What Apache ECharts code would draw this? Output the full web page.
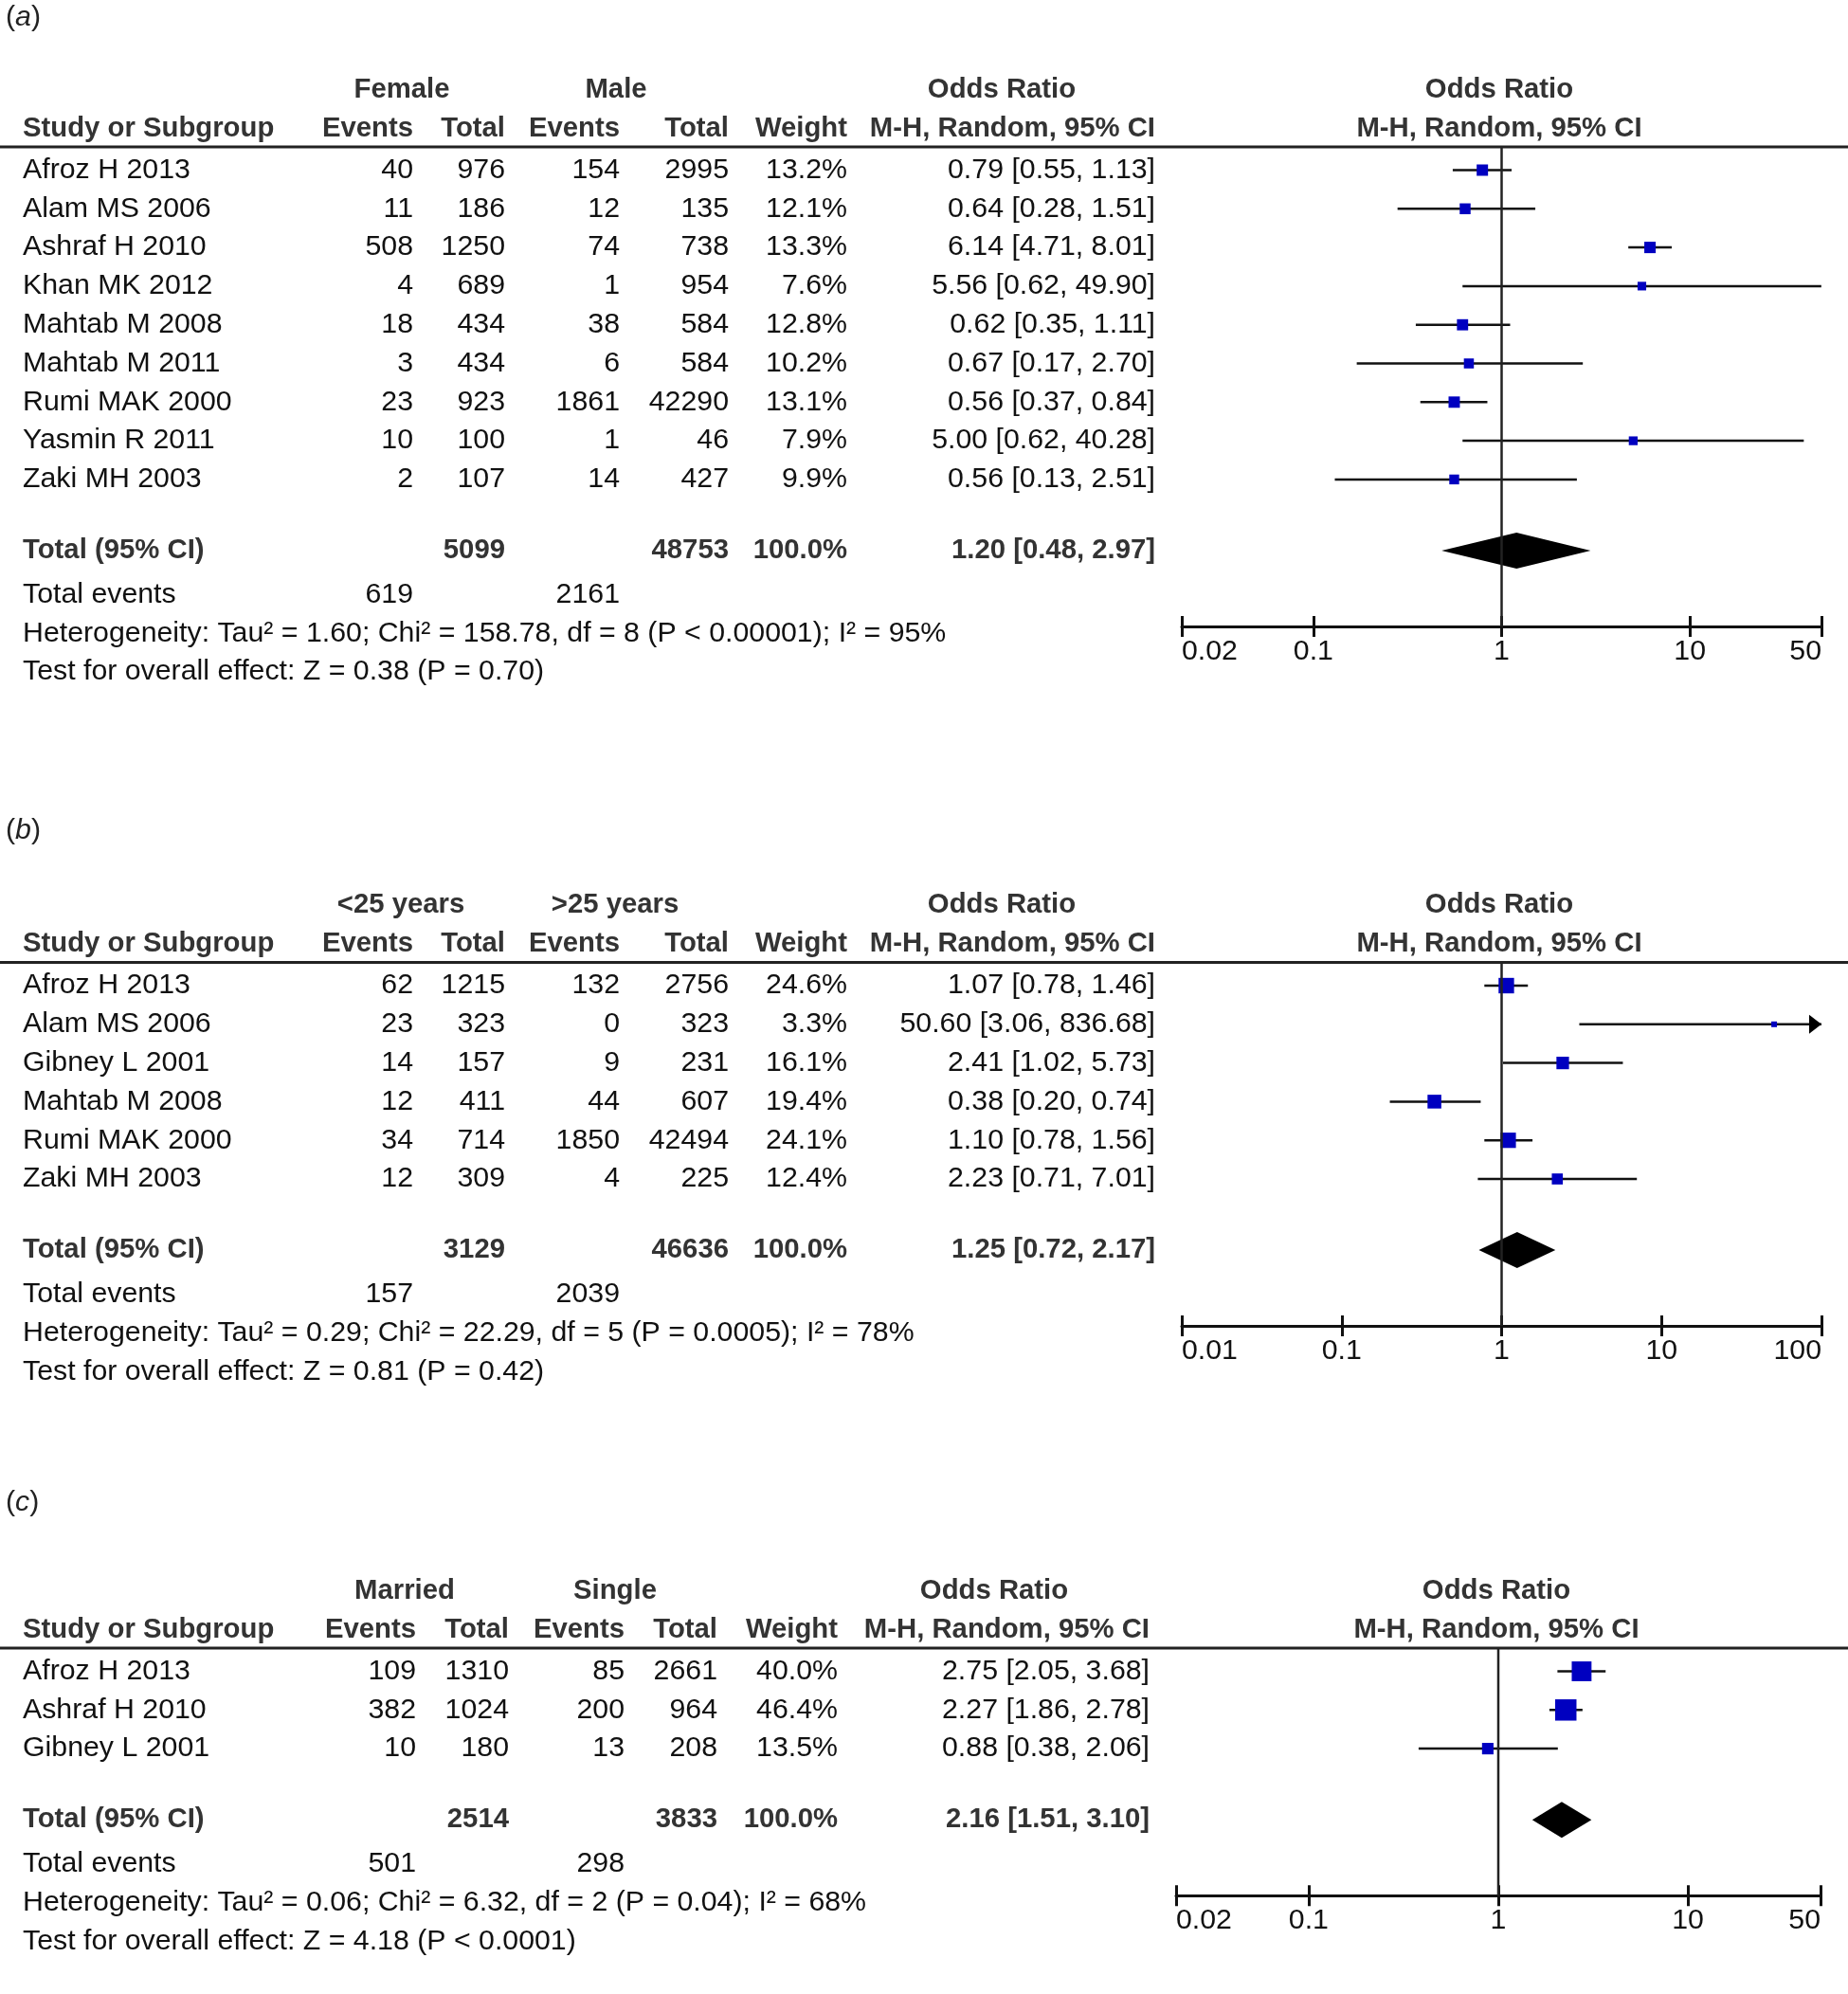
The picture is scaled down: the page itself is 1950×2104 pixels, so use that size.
<!DOCTYPE html>
<html>
<head>
    <meta charset="utf-8">
</head>
<body style="margin: 0; background: #fff">
    <div id="container" style="width: 1950px; height: 2104px"></div>
    <script type="text/javascript" src="https://cdn.jsdelivr.net/npm/echarts@6/dist/echarts.min.js"></script>
    <script type="text/javascript">
// ---------- (a) female vs male ----------
var groupsA = ['Female', 'Male'];
var studiesA = ['Afroz H 2013', 'Alam MS 2006', 'Ashraf H 2010', 'Khan MK 2012', 'Mahtab M 2008',
    'Mahtab M 2011', 'Rumi MAK 2000', 'Yasmin R 2011', 'Zaki MH 2003'];
var events1A = [40, 11, 508, 4, 18, 3, 23, 10, 2];
var total1A = [976, 186, 1250, 689, 434, 434, 923, 100, 107];
var events2A = [154, 12, 74, 1, 38, 6, 1861, 1, 14];
var total2A = [2995, 135, 738, 954, 584, 584, 42290, 46, 427];
var weightA = [13.2, 12.1, 13.3, 7.6, 12.8, 10.2, 13.1, 7.9, 9.9];
var orA = [0.79, 0.64, 6.14, 5.56, 0.62, 0.67, 0.56, 5.00, 0.56];
var loA = [0.55, 0.28, 4.71, 0.62, 0.35, 0.17, 0.37, 0.62, 0.13];
var hiA = [1.13, 1.51, 8.01, 49.90, 1.11, 2.70, 0.84, 40.28, 2.51];
var sumTotalsA = [5099, 48753];
var sumOrA = [1.20, 0.48, 2.97];
var sumEventsA = [619, 2161];
var hetA = 'Heterogeneity: Tau\u00b2 = 1.60; Chi\u00b2 = 158.78, df = 8 (P < 0.00001); I\u00b2 = 95%';
var testA = 'Test for overall effect: Z = 0.38 (P = 0.70)';
var ticksA = [0.02, 50];

// ---------- (b) <25 vs >25 years ----------
var groupsB = ['<25 years', '>25 years'];
var studiesB = ['Afroz H 2013', 'Alam MS 2006', 'Gibney L 2001', 'Mahtab M 2008', 'Rumi MAK 2000', 'Zaki MH 2003'];
var events1B = [62, 23, 14, 12, 34, 12];
var total1B = [1215, 323, 157, 411, 714, 309];
var events2B = [132, 0, 9, 44, 1850, 4];
var total2B = [2756, 323, 231, 607, 42494, 225];
var weightB = [24.6, 3.3, 16.1, 19.4, 24.1, 12.4];
var orB = [1.07, 50.60, 2.41, 0.38, 1.10, 2.23];
var loB = [0.78, 3.06, 1.02, 0.20, 0.78, 0.71];
var hiB = [1.46, 836.68, 5.73, 0.74, 1.56, 7.01];
var sumTotalsB = [3129, 46636];
var sumOrB = [1.25, 0.72, 2.17];
var sumEventsB = [157, 2039];
var hetB = 'Heterogeneity: Tau\u00b2 = 0.29; Chi\u00b2 = 22.29, df = 5 (P = 0.0005); I\u00b2 = 78%';
var testB = 'Test for overall effect: Z = 0.81 (P = 0.42)';
var ticksB = [0.01, 100];

// ---------- (c) married vs single ----------
var groupsC = ['Married', 'Single'];
var studiesC = ['Afroz H 2013', 'Ashraf H 2010', 'Gibney L 2001'];
var events1C = [109, 382, 10];
var total1C = [1310, 1024, 180];
var events2C = [85, 200, 13];
var total2C = [2661, 964, 208];
var weightC = [40.0, 46.4, 13.5];
var orC = [2.75, 2.27, 0.88];
var loC = [2.05, 1.86, 0.38];
var hiC = [3.68, 2.78, 2.06];
var sumTotalsC = [2514, 3833];
var sumOrC = [2.16, 1.51, 3.10];
var sumEventsC = [501, 298];
var hetC = 'Heterogeneity: Tau\u00b2 = 0.06; Chi\u00b2 = 6.32, df = 2 (P = 0.04); I\u00b2 = 68%';
var testC = 'Test for overall effect: Z = 4.18 (P < 0.0001)';
var ticksC = [0.02, 50];

var FONT = '"Liberation Sans", Arial, sans-serif';
var FS = 30.3;      // regular text
var FSB = 29.3;     // bold text
var ROW = 40.8;
var TEXT = '#111';
var HEAD = '#333';
var BOX = '#0000c0';

// layout of each panel (pixels)
var layouts = [
    {label: 'a', labelRow: -3.95, row0: 179.5, axisL: 1247, axisR: 1922,
        cols: {name: 24, e1: 436, t1: 533, e2: 654, t2: 769, w: 894, or: 1219, g1: 424, g2: 650, orHead: 1057, plotHead: 1582}},
    {label: 'b', labelRow: -4.0, row0: 1040, axisL: 1247, axisR: 1922,
        cols: {name: 24, e1: 436, t1: 533, e2: 654, t2: 769, w: 894, or: 1219, g1: 423, g2: 649, orHead: 1057, plotHead: 1582}},
    {label: 'c', labelRow: -4.36, row0: 1763.5, axisL: 1241, axisR: 1921,
        cols: {name: 24, e1: 439, t1: 537, e2: 659, t2: 757, w: 884, or: 1213, g1: 427, g2: 649, orHead: 1049, plotHead: 1579}}
];
var panelData = [
    {groups: groupsA, studies: studiesA, e1: events1A, t1: total1A, e2: events2A, t2: total2A, w: weightA,
        or: orA, lo: loA, hi: hiA, sumT: sumTotalsA, sumOr: sumOrA, sumE: sumEventsA, het: hetA, test: testA, ticks: ticksA},
    {groups: groupsB, studies: studiesB, e1: events1B, t1: total1B, e2: events2B, t2: total2B, w: weightB,
        or: orB, lo: loB, hi: hiB, sumT: sumTotalsB, sumOr: sumOrB, sumE: sumEventsB, het: hetB, test: testB, ticks: ticksB},
    {groups: groupsC, studies: studiesC, e1: events1C, t1: total1C, e2: events2C, t2: total2C, w: weightC,
        or: orC, lo: loC, hi: hiC, sumT: sumTotalsC, sumOr: sumOrC, sumE: sumEventsC, het: hetC, test: testC, ticks: ticksC}
];

function orText(o, l, h) {
    return o.toFixed(2) + ' [' + l.toFixed(2) + ', ' + h.toFixed(2) + ']';
}

var option = {
    animation: false,
    backgroundColor: '#fff',
    grid: [], xAxis: [], yAxis: [], series: []
};

function addPanel(L, D) {
    var n = D.studies.length;
    var C = L.cols;
    var yMin = -4.4, yMax = n + 4.6;
    var fTop = -0.6, fBot = n + 2.8;

    // ----- table grid (text + header rule) -----
    var gi = option.grid.length;
    option.grid.push({left: 0, width: 1950, top: L.row0 + yMin * ROW, height: (yMax - yMin) * ROW});
    option.xAxis.push({gridIndex: gi, type: 'value', min: 0, max: 1950, show: false});
    option.yAxis.push({gridIndex: gi, type: 'value', min: yMin, max: yMax, inverse: true, show: false});

    var cells = [];
    function cell(x, row, text, align, bold) {
        cells.push({x: x, row: row, text: String(text), align: align, bold: !!bold});
    }
    cells.push({x: 6, row: L.labelRow, text: '({i|' + L.label + '})', align: 'left', rich: true});
    cell(C.g1, -2.08, D.groups[0], 'center', true);
    cell(C.g2, -2.08, D.groups[1], 'center', true);
    cell(C.orHead, -2.08, 'Odds Ratio', 'center', true);
    cell(C.plotHead, -2.08, 'Odds Ratio', 'center', true);
    cell(C.name, -1.08, 'Study or Subgroup', 'left', true);
    cell(C.e1, -1.08, 'Events', 'right', true);
    cell(C.t1, -1.08, 'Total', 'right', true);
    cell(C.e2, -1.08, 'Events', 'right', true);
    cell(C.t2, -1.08, 'Total', 'right', true);
    cell(C.w, -1.08, 'Weight', 'right', true);
    cell(C.or, -1.08, 'M-H, Random, 95% CI', 'right', true);
    cell(C.plotHead, -1.08, 'M-H, Random, 95% CI', 'center', true);
    for (var i = 0; i < n; i++) {
        cell(C.name, i, D.studies[i], 'left');
        cell(C.e1, i, D.e1[i], 'right');
        cell(C.t1, i, D.t1[i], 'right');
        cell(C.e2, i, D.e2[i], 'right');
        cell(C.t2, i, D.t2[i], 'right');
        cell(C.w, i, D.w[i].toFixed(1) + '%', 'right');
        cell(C.or, i, orText(D.or[i], D.lo[i], D.hi[i]), 'right');
    }
    var rt = n + 0.84;
    cell(C.name, rt, 'Total (95% CI)', 'left', true);
    cell(C.t1, rt, D.sumT[0], 'right', true);
    cell(C.t2, rt, D.sumT[1], 'right', true);
    cell(C.w, rt, '100.0%', 'right', true);
    cell(C.or, rt, orText(D.sumOr[0], D.sumOr[1], D.sumOr[2]), 'right', true);
    cell(C.name, n + 1.98, 'Total events', 'left');
    cell(C.e1, n + 1.98, D.sumE[0], 'right');
    cell(C.e2, n + 1.98, D.sumE[1], 'right');
    cell(C.name, n + 2.98, D.het, 'left');
    cell(C.name, n + 3.98, D.test, 'left');

    option.series.push({
        type: 'custom',
        xAxisIndex: gi, yAxisIndex: gi,
        silent: true,
        data: cells.map(function (c) { return [c.x, c.row]; }),
        renderItem: function (params, api) {
            var c = cells[params.dataIndex];
            var p = api.coord([c.x, c.row]);
            var style = {
                text: c.text,
                align: c.align,
                verticalAlign: 'middle',
                fill: c.bold ? HEAD : TEXT,
                fontSize: c.bold ? FSB : FS,
                fontFamily: FONT,
                fontWeight: c.bold ? 'bold' : 'normal'
            };
            if (c.rich) {
                style.fill = '#222';
                style.rich = {i: {fontStyle: 'italic', fontSize: FS, fontFamily: FONT, fill: '#222'}};
            }
            return {type: 'text', x: p[0], y: p[1], style: style};
        }
    });
    // header rule across the whole width
    option.series.push({
        type: 'line',
        xAxisIndex: gi, yAxisIndex: gi,
        silent: true, symbol: 'none',
        lineStyle: {color: '#222', width: 3},
        data: [[0, fTop], [1950, fTop]]
    });

    // ----- forest grid (log odds-ratio axis) -----
    var fi = option.grid.length;
    var lo = D.ticks[0], hi = D.ticks[1];
    option.grid.push({left: L.axisL, width: L.axisR - L.axisL, top: L.row0 + fTop * ROW, height: (fBot - fTop) * ROW});
    option.xAxis.push({
        gridIndex: fi, type: 'log', logBase: 10, min: lo, max: hi,
        axisLine: {show: true, onZero: false, lineStyle: {color: '#111', width: 3}},
        axisTick: {show: true, length: 11, lineStyle: {color: '#111', width: 3}},
        axisLabel: {
            show: true, margin: 12, fontSize: FS, fontFamily: FONT, color: TEXT,
            showMinLabel: true, showMaxLabel: true,
            alignMinLabel: 'left', alignMaxLabel: 'right',
            formatter: function (v) { return String(Number(v.toPrecision(4))); }
        },
        splitLine: {show: false}
    });
    option.yAxis.push({gridIndex: fi, type: 'value', min: fTop, max: fBot, inverse: true, show: false});

    // upward half of the ticks
    var ti = option.grid.length;
    option.grid.push({left: L.axisL, width: L.axisR - L.axisL, top: L.row0 + fBot * ROW - 11, height: 11});
    option.xAxis.push({
        gridIndex: ti, type: 'log', logBase: 10, min: lo, max: hi,
        axisLine: {show: false, onZero: false},
        axisTick: {show: true, inside: true, length: 11, lineStyle: {color: '#111', width: 3}},
        axisLabel: {show: false},
        splitLine: {show: false}
    });
    option.yAxis.push({gridIndex: ti, type: 'value', min: 0, max: 1, show: false});

    // line of no effect
    option.series.push({
        type: 'line',
        xAxisIndex: fi, yAxisIndex: fi,
        silent: true, symbol: 'none',
        lineStyle: {color: '#222', width: 2.5},
        data: [[1, fTop], [1, fBot]]
    });

    // study estimates: CI line + weighted square (+ arrow if clipped)
    option.series.push({
        type: 'custom',
        xAxisIndex: fi, yAxisIndex: fi,
        silent: true,
        clip: false,
        data: D.or.map(function (o, k) { return [o, D.lo[k], D.hi[k], k, D.w[k]]; }),
        renderItem: function (params, api) {
            var o = api.value(0), l = api.value(1), h = api.value(2), r = api.value(3), w = api.value(4);
            var y = api.coord([1, r])[1];
            var xl = api.coord([Math.max(l, lo), r])[0];
            var xh = api.coord([Math.min(h, hi), r])[0];
            var xo = api.coord([o, r])[0];
            var s = 3.3 * Math.sqrt(w);
            var children = [
                {type: 'line', shape: {x1: xl, y1: y, x2: xh, y2: y}, style: {stroke: '#111', lineWidth: 2.5}},
                {type: 'rect', shape: {x: xo - s / 2, y: y - s / 2, width: s, height: s}, style: {fill: BOX}}
            ];
            if (h > hi) {
                children.push({type: 'polygon', shape: {points: [[xh - 13, y - 10], [xh, y], [xh - 13, y + 10]]},
                    style: {fill: '#000'}});
            }
            return {type: 'group', children: children};
        }
    });

    // pooled estimate diamond
    option.series.push({
        type: 'custom',
        xAxisIndex: fi, yAxisIndex: fi,
        silent: true,
        clip: false,
        data: [[D.sumOr[0], D.sumOr[1], D.sumOr[2], n + 0.84]],
        renderItem: function (params, api) {
            var r = api.value(3);
            var pc = api.coord([api.value(0), r]);
            var xl = api.coord([api.value(1), r])[0];
            var xh = api.coord([api.value(2), r])[0];
            var hh = 19;
            return {
                type: 'polygon',
                shape: {points: [[xl, pc[1]], [pc[0], pc[1] - hh], [xh, pc[1]], [pc[0], pc[1] + hh]]},
                style: {fill: '#000'}
            };
        }
    });
}

for (var p = 0; p < layouts.length; p++) {
    addPanel(layouts[p], panelData[p]);
}

var myChart = echarts.init(document.getElementById('container'));
myChart.setOption(option, true);
</script>
</body>
</html>
